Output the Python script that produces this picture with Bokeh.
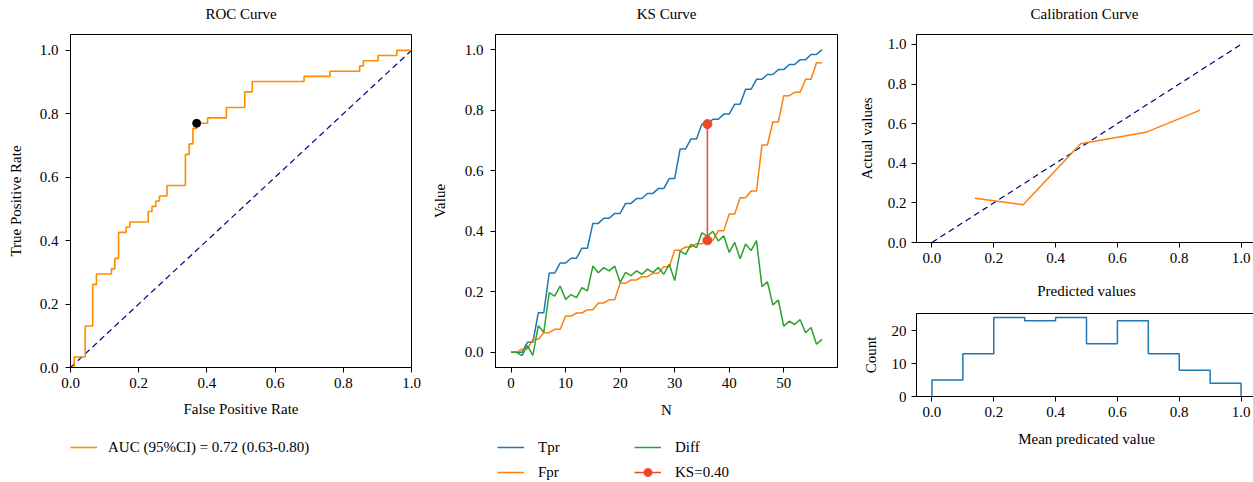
from bokeh.plotting import figure
from bokeh.layouts import row, column
from bokeh.models import Range1d, FixedTicker, PrintfTickFormatter, Legend, LegendItem
from bokeh.core.properties import value
from bokeh.embed import file_html
from bokeh.resources import INLINE

FONT = "Liberation Serif"
FS = "15px"

# ---- ROC / KS data (one point per threshold index N) ----
tpr = [0.0, 0.0, 0.0, 0.033, 0.033, 0.131, 0.131, 0.262, 0.262, 0.295,
       0.295, 0.311, 0.311, 0.344, 0.344, 0.426, 0.426, 0.443, 0.443, 0.459,
       0.459, 0.492, 0.492, 0.508, 0.508, 0.525, 0.525, 0.541, 0.541, 0.574,
       0.574, 0.672, 0.672, 0.705, 0.705, 0.754, 0.754, 0.770, 0.770, 0.787,
       0.787, 0.820, 0.820, 0.869, 0.869, 0.902, 0.902, 0.918, 0.918, 0.934,
       0.934, 0.951, 0.951, 0.967, 0.967, 0.984, 0.984, 1.0]
fpr = [0.0, 0.0, 0.011, 0.011, 0.043, 0.043, 0.065, 0.065, 0.076, 0.076,
       0.120, 0.120, 0.130, 0.130, 0.141, 0.141, 0.163, 0.163, 0.174, 0.174,
       0.228, 0.228, 0.239, 0.239, 0.250, 0.250, 0.261, 0.261, 0.283, 0.283,
       0.337, 0.337, 0.348, 0.348, 0.359, 0.359, 0.370, 0.370, 0.402, 0.402,
       0.457, 0.457, 0.511, 0.511, 0.533, 0.533, 0.685, 0.685, 0.761, 0.761,
       0.848, 0.848, 0.859, 0.859, 0.902, 0.902, 0.957, 0.957]
diff = [0.0, 0.0, -0.011, 0.022, -0.010, 0.088, 0.066, 0.197, 0.186, 0.219,
        0.175, 0.191, 0.181, 0.214, 0.203, 0.285, 0.263, 0.280, 0.269, 0.285,
        0.231, 0.264, 0.253, 0.269, 0.258, 0.275, 0.264, 0.280, 0.258, 0.291,
        0.237, 0.335, 0.324, 0.357, 0.346, 0.395, 0.384, 0.400, 0.368, 0.385,
        0.330, 0.363, 0.309, 0.358, 0.336, 0.369, 0.217, 0.233, 0.157, 0.173,
        0.086, 0.103, 0.092, 0.108, 0.065, 0.082, 0.027, 0.043]
roc_end = [1.0, 1.0]
ks_index = 36
best_index = 37
auc_label = "AUC (95%CI) = 0.72 (0.63-0.80)"
ks_label = "KS=0.40"

# ---- calibration data ----
cal_pred = [0.139, 0.295, 0.481, 0.692, 0.868]
cal_true = [0.223, 0.191, 0.499, 0.556, 0.668]

# ---- histogram data ----
hist_edges = [0.0, 0.1, 0.2, 0.3, 0.4, 0.5, 0.6, 0.7, 0.8, 0.9, 1.0]
hist_counts = [5, 13, 24, 23, 24, 16, 23, 13, 8, 4]

unit_ticks = [0.0, 0.2, 0.4, 0.6, 0.8, 1.0]

BLUE = "#1f77b4"
ORANGE = "#ff7f0e"
DORANGE = "#ff8c00"
GREEN = "#2ca02c"
RED = "#f0462a"
NAVY = "#000080"

STRIP_H = 26


def style(p, xlabel, ylabel, xticks, yticks, xfmt, yfmt,
          x_als=10, y_als=13, y_ls=7):
    p.outline_line_color = "black"
    p.outline_line_width = 1
    p.xgrid.visible = False
    p.ygrid.visible = False
    p.xaxis.axis_label = xlabel
    p.yaxis.axis_label = ylabel
    p.xaxis.ticker = FixedTicker(ticks=xticks)
    p.yaxis.ticker = FixedTicker(ticks=yticks)
    p.xaxis.formatter = PrintfTickFormatter(format=xfmt)
    p.yaxis.formatter = PrintfTickFormatter(format=yfmt)
    for ax in (p.xaxis[0], p.yaxis[0]):
        ax.major_label_text_font = FONT
        ax.major_label_text_font_size = FS
        ax.major_label_text_color = "black"
        ax.axis_label_text_font = FONT
        ax.axis_label_text_font_size = FS
        ax.axis_label_text_font_style = "normal"
        ax.axis_label_text_color = "black"
        ax.major_tick_in = 0
        ax.major_tick_out = 5
        ax.major_tick_line_color = "black"
        ax.minor_tick_line_color = None
        ax.axis_line_color = "black"
    p.xaxis.major_label_standoff = 5
    p.xaxis.axis_label_standoff = x_als
    p.yaxis.major_label_standoff = y_ls
    p.yaxis.axis_label_standoff = y_als


def blank(width, height, yr=(0, 1)):
    f = figure(width=width, height=height, min_border=0,
               x_range=Range1d(0, 1), y_range=Range1d(*yr),
               x_axis_location=None, y_axis_location=None,
               toolbar_location=None, output_backend="svg")
    f.grid.visible = False
    f.outline_line_color = None
    return f


def title_strip(width, text):
    f = blank(width, STRIP_H, (0, STRIP_H))
    f.text(x=[0.5], y=[STRIP_H - 13.5], text=[text], text_align="center",
           text_baseline="middle", text_font=value(FONT), text_font_size=FS,
           text_color="black")
    return f


def legend(items, x, y, standoff):
    return Legend(items=items, location=(x, y), orientation="vertical",
                  background_fill_alpha=0, border_line_alpha=0,
                  label_text_font=FONT, label_text_font_size=FS,
                  label_text_color="black", glyph_width=27, glyph_height=20,
                  label_standoff=standoff, spacing=5, padding=0, margin=0)


n = list(range(len(tpr)))
off = [-10.0, -9.0]   # legend-only sample glyphs, outside the visible range

# ---------------- ROC ----------------
roc_title = title_strip(428, "ROC Curve")
roc = figure(frame_width=341, frame_height=333, min_border_left=70,
             min_border_right=17, min_border_top=34 - STRIP_H, min_border_bottom=58,
             x_range=Range1d(0, 1), y_range=Range1d(0, 1.05),
             toolbar_location=None, output_backend="svg")
style(roc, "False Positive Rate", "True Positive Rate", unit_ticks, unit_ticks,
      "%.1f", "%.1f")
roc.line([0, 1], [0, 1], line_color=NAVY, line_width=1.2, line_dash="6 4")
roc.line(fpr + roc_end[:1], tpr + roc_end[1:], line_color=DORANGE, line_width=1.6)
roc.scatter([fpr[best_index]], [tpr[best_index]], size=8, color="black")

roc_leg = blank(428, 57)
r_auc = roc_leg.line(off, off, line_color=DORANGE, line_width=1.6)
roc_leg.add_layout(legend([LegendItem(label=auc_label, renderers=[r_auc])], 0, 25, 11))

# ---------------- KS ----------------
ks_title = title_strip(427, "KS Curve")
ks = figure(frame_width=342, frame_height=333, min_border_left=67,
            min_border_right=18, min_border_top=34 - STRIP_H, min_border_bottom=58,
            x_range=Range1d(-2.85, 59.85), y_range=Range1d(-0.05, 1.05),
            toolbar_location=None, output_backend="svg")
style(ks, "N", "Value", [0, 10, 20, 30, 40, 50], unit_ticks, "%d", "%.1f",
      x_als=11, y_als=14)
ks.line(n, tpr, line_color=BLUE, line_width=1.5)
ks.line(n, fpr, line_color=ORANGE, line_width=1.5)
ks.line(n, diff, line_color=GREEN, line_width=1.5)
ks_x = [n[ks_index], n[ks_index]]
ks_y = [fpr[ks_index], tpr[ks_index]]
ks.line(ks_x, ks_y, line_color=RED, line_width=1.5)
ks.scatter(ks_x, ks_y, size=9, color=RED)

ks_leg = blank(427, 57)
g_tpr = ks_leg.line(off, off, line_color=BLUE, line_width=1.5)
g_fpr = ks_leg.line(off, off, line_color=ORANGE, line_width=1.5)
g_diff = ks_leg.line(off, off, line_color=GREEN, line_width=1.5)
g_ksl = ks_leg.line(off, off, line_color=RED, line_width=1.5)
g_ksm = ks_leg.scatter(off, off, size=8, color=RED)
ks_leg.add_layout(legend([LegendItem(label="Tpr", renderers=[g_tpr]),
                          LegendItem(label="Fpr", renderers=[g_fpr])], 2, 0, 14))
ks_leg.add_layout(legend([LegendItem(label="Diff", renderers=[g_diff]),
                          LegendItem(label=ks_label, renderers=[g_ksl, g_ksm])], 139, 0, 14))

# ---------------- Calibration ----------------
cal_title = title_strip(398, "Calibration Curve")
cal = figure(frame_width=340, frame_height=208, min_border_left=57,
             min_border_right=1, min_border_top=34 - STRIP_H, min_border_bottom=62,
             x_range=Range1d(-0.05, 1.05), y_range=Range1d(0, 1.05),
             toolbar_location=None, output_backend="svg")
style(cal, "Predicted values", "Actual values", unit_ticks, unit_ticks,
      "%.1f", "%.1f", x_als=17, y_als=10, y_ls=5)
cal.line([0, 1], [0, 1], line_color=NAVY, line_width=1.2, line_dash="6 4")
cal.line(cal_pred, cal_true, line_color=ORANGE, line_width=1.5)

# ---------------- Histogram ----------------
hist = figure(frame_width=340, frame_height=83, min_border_left=57,
              min_border_right=1, min_border_top=9, min_border_bottom=86,
              x_range=Range1d(-0.05, 1.05), y_range=Range1d(0, 25.2),
              toolbar_location=None, output_backend="svg")
style(hist, "Mean predicated value", "Count", unit_ticks, [0, 10, 20], "%.1f", "%d",
      x_als=11, y_als=10, y_ls=5)
hx = [hist_edges[0]]
hy = [0]
for i, c in enumerate(hist_counts):
    hx += [hist_edges[i], hist_edges[i + 1]]
    hy += [c, c]
hx.append(hist_edges[-1])
hy.append(0)
hist.line(hx, hy, line_color=BLUE, line_width=1.5)

layout = row(column(roc_title, roc, roc_leg),
             column(ks_title, ks, ks_leg),
             column(cal_title, cal, hist))
open("out.html", "w").write(file_html(layout, INLINE))
